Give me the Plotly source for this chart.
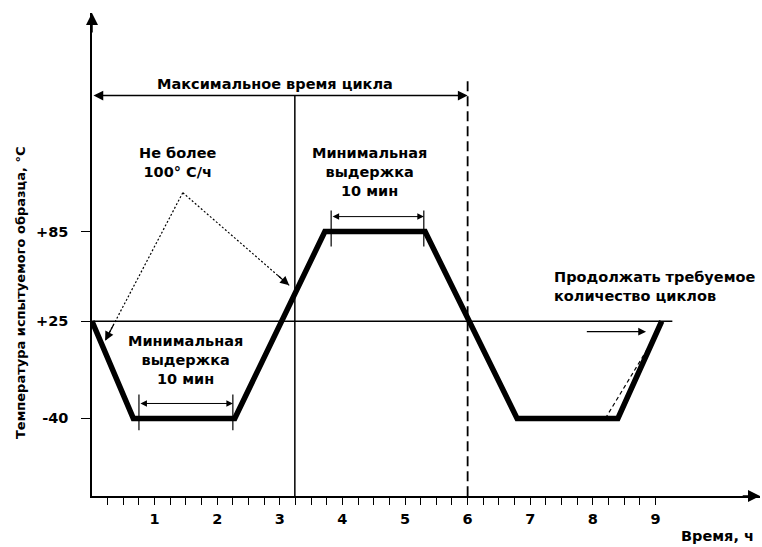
import plotly.graph_objects as go

# ---- data ----
time_h = [0, 0.66, 2.28, 3.72, 5.32, 6.79, 8.40, 9.10]      # main cycle knots, hours
temp_c = [25, -40, -40, 85, 85, -40, -40, 25]               # temperature, °C

ytick_vals = [85, 25, -40]
ytick_text = ["+85", "+25", "-40"]
xtick_major = [1, 2, 3, 4, 5, 6, 7, 8, 9]
xtick_labels = ["1", "2", "3", "4", "5", "6", "7", "8", "9"]
xtick_minor_step = 0.25

room_line_t = [0, 9.27]          # +25 °C reference line
room_line_T = [25, 25]

cycle_span_t = [0, 6.0]          # "maximum cycle time" span
cycle_level = 176
ref_time = 3.24                  # solid vertical marker
ref_time_T = [-92, 176]
cycle_end_T = [-92, 186]         # dashed vertical at cycle end

hold1_t = [0.75, 2.25]; hold1_level = -30; hold1_ticks = [-24, -48]
hold2_t = [3.82, 5.30]; hold2_level = 95;  hold2_ticks = [99, 75]

rate_apex = (1.45, 111)
rate_targets_t = [0.21, 3.15]
rate_targets_T = [12, 49]

fast_ramp_t = [8.20, 8.88]
fast_ramp_T = [-40, 7]

continue_t = [7.88, 8.85]
continue_T = 18

x_range = [0, 10.67]
y_range = [-91.9, 231.2]

fig = go.Figure()

# reference lines
fig.add_trace(go.Scatter(x=room_line_t, y=room_line_T, mode="lines",
                         line=dict(color="black", width=1.5), hoverinfo="skip"))
fig.add_trace(go.Scatter(x=[ref_time, ref_time], y=ref_time_T, mode="lines",
                         line=dict(color="black", width=1.5), hoverinfo="skip"))
fig.add_trace(go.Scatter(x=[cycle_span_t[1], cycle_span_t[1]], y=cycle_end_T, mode="lines",
                         line=dict(color="black", width=1.8, dash="10px,5px"), hoverinfo="skip"))

# hold-time dimension ticks
for ht, hticks in ((hold1_t, hold1_ticks), (hold2_t, hold2_ticks)):
    for t in ht:
        fig.add_trace(go.Scatter(x=[t, t], y=hticks, mode="lines",
                                 line=dict(color="black", width=1.2), hoverinfo="skip"))

# fast ramp dashed line
fig.add_trace(go.Scatter(x=fast_ramp_t, y=fast_ramp_T, mode="lines",
                         line=dict(color="black", width=1.2, dash="4px,3px"), hoverinfo="skip"))

# rate pointer lines (dotted)
for tt, TT in zip(rate_targets_t, rate_targets_T):
    fig.add_trace(go.Scatter(x=[rate_apex[0], tt], y=[rate_apex[1], TT], mode="lines",
                             line=dict(color="black", width=1.2, dash="2px,2px"),
                             hoverinfo="skip"))

# main cycle curve
fig.add_trace(go.Scatter(x=time_h, y=temp_c, mode="lines",
                         line=dict(color="black", width=5.5), hoverinfo="skip"))

ann = []
# axis arrows
ann.append(dict(x=0, y=y_range[1], ax=0, ay=y_range[1] - 14, xref="x", yref="y", axref="x", ayref="y",
                text="", showarrow=True, arrowhead=2, arrowsize=1.6, arrowwidth=1.5, arrowcolor="black"))
ann.append(dict(x=x_range[1], y=y_range[0], ax=x_range[1] - 0.3, ay=y_range[0], xref="x", yref="y",
                axref="x", ayref="y", text="", showarrow=True, arrowhead=2, arrowsize=1.6,
                arrowwidth=1.5, arrowcolor="black"))
# arrow heads on the rate pointers
for tt, TT in zip(rate_targets_t, rate_targets_T):
    ann.append(dict(x=tt, y=TT, ax=tt + 0.12 * (rate_apex[0] - tt), ay=TT + 0.12 * (rate_apex[1] - TT),
                    xref="x", yref="y", axref="x", ayref="y", text="", showarrow=True,
                    arrowhead=2, arrowsize=1.5, arrowwidth=1.2, arrowcolor="black"))
# two-sided dimension arrows
for (t0, t1), lvl, w in ((cycle_span_t, cycle_level, 1.5), (hold1_t, hold1_level, 1.0),
                         (hold2_t, hold2_level, 1.0)):
    ann.append(dict(x=t1, y=lvl, ax=t0, ay=lvl, xref="x", yref="y", axref="x", ayref="y",
                    text="", showarrow=True, arrowhead=2, startarrowhead=2, arrowside="end+start",
                    arrowsize=1.3, startarrowsize=1.3, arrowwidth=w, arrowcolor="black"))
# continue arrow
ann.append(dict(x=continue_t[1], y=continue_T, ax=continue_t[0], ay=continue_T, xref="x", yref="y",
                axref="x", ayref="y", text="", showarrow=True, arrowhead=2, arrowsize=1.3,
                arrowwidth=1.2, arrowcolor="black"))

# texts
ann.append(dict(x=2.92, y=184, xref="x", yref="y", text="Максимальное время цикла", showarrow=False))
ann.append(dict(x=1.37, y=131.5, xref="x", yref="y", text="Не более<br>100° С/ч", showarrow=False))
ann.append(dict(x=1.50, y=-1, xref="x", yref="y", text="Минимальная<br>выдержка<br>10 мин",
                showarrow=False))
ann.append(dict(x=4.44, y=125, xref="x", yref="y", text="Минимальная<br>выдержка<br>10 мин",
                showarrow=False))
ann.append(dict(x=7.35, y=48, xref="x", yref="y", xanchor="left", align="left",
                text="Продолжать требуемое<br>количество циклов", showarrow=False))
ann.append(dict(x=-0.108, y=0.422, xref="paper", yref="paper", xanchor="center", yanchor="middle",
                textangle=-90, text="Температура испытуемого образца, °С", showarrow=False,
                font=dict(size=13)))
ann.append(dict(x=0.937, y=-0.083, xref="paper", yref="paper", xanchor="center", yanchor="middle",
                text="Время, ч", showarrow=False))

minor_vals = [i * xtick_minor_step for i in range(1, int(xtick_major[-1] / xtick_minor_step) + 1)]
minor_text = [xtick_labels[xtick_major.index(v)] if v in xtick_major else "" for v in minor_vals]

fig.update_layout(
    width=762, height=547,
    margin=dict(l=92, r=2, t=13, b=51, autoexpand=False),
    paper_bgcolor="white", plot_bgcolor="white",
    showlegend=False,
    font=dict(family="DejaVu Sans", size=14.5, color="black", weight="bold"),
    annotations=ann,
    xaxis=dict(range=x_range, showgrid=False, zeroline=False, showline=True, linecolor="black",
               linewidth=1.5, ticks="outside", ticklen=7, tickwidth=1.3, tickcolor="black",
               tickvals=minor_vals, ticktext=minor_text, ticklabelstandoff=2),
    yaxis=dict(range=y_range, showgrid=False, zeroline=False, showline=True, linecolor="black",
               linewidth=1.5, ticks="outside", ticklen=9, tickwidth=1.3, tickcolor="black",
               tickvals=ytick_vals, ticktext=ytick_text, ticklabelstandoff=10),
)

fig.write_html("out.html", config={"displayModeBar": False},
               post_script="document.body.style.margin='0';")
